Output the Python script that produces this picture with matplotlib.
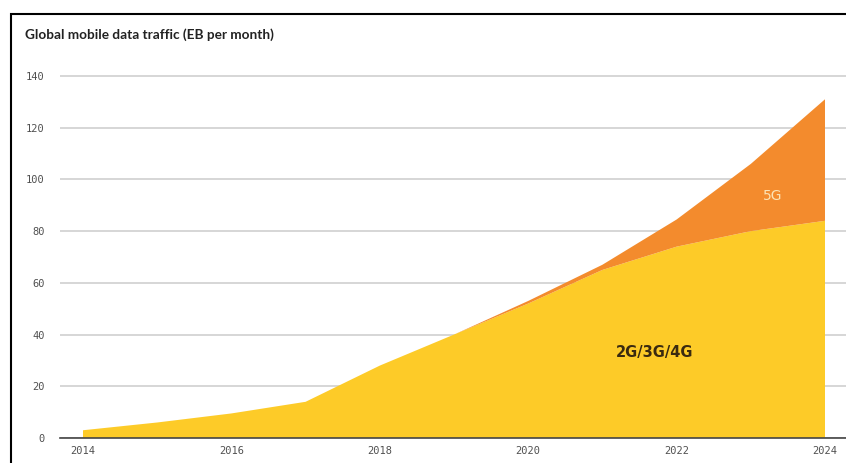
import matplotlib.pyplot as plt
from matplotlib.patches import Rectangle

years = [2014, 2015, 2016, 2017, 2018, 2019, 2020, 2021, 2022, 2023, 2024]
legacy = [3, 6, 9.5, 14, 28, 40, 52, 65, 74, 80, 84]
fiveg = [0, 0, 0, 0, 0, 0, 1, 2, 10.5, 26, 47]

yticks = [0, 20, 40, 60, 80, 100, 120, 140]
xticks = [2014, 2016, 2018, 2020, 2022, 2024]

YELLOW = "#fdcb28"
ORANGE = "#f38b2d"

# pixel layout: 0 -> y=438, 140 -> y=76
ppu = (438 - 76) / 140
ytop = 142
fig = plt.figure(figsize=(8.46, 4.63), dpi=100)
ax = fig.add_axes([60 / 846, 25 / 463, 786 / 846, ytop * ppu / 463])

ax.stackplot(years, legacy, fiveg, colors=[YELLOW, ORANGE], linewidth=0)

ax.set_xlim(2014 - 23 / 74.2, 2024 + 21 / 74.2)
ax.set_ylim(0, ytop)
ax.set_yticks(yticks)
ax.set_xticks(xticks)
ax.yaxis.grid(True, color="#cfcfcf", linewidth=1.2)
ax.set_axisbelow(True)
for s in ["top", "right", "left"]:
    ax.spines[s].set_visible(False)
ax.spines["bottom"].set_color("#444444")
ax.spines["bottom"].set_linewidth(1.2)
ax.spines["bottom"].set_zorder(5)
ax.tick_params(length=0, labelsize=7.5, labelcolor="#505050")
ax.tick_params(axis="y", pad=11)
ax.tick_params(axis="x", pad=6)
for lab in ax.get_xticklabels() + ax.get_yticklabels():
    lab.set_family("DejaVu Sans Mono")

ax.text(2023.29, 93.6, "5G", color="#fce3b5", fontsize=10, ha="center", va="center")
ax.text(2021.71, 32.9, "2G/3G/4G", color="#3a2a10", fontsize=10.5,
        fontweight="bold", ha="center", va="center")

fig.text(25 / 846, 1 - 35 / 463, "Global mobile data traffic (EB per month)",
         fontsize=9.8, fontweight="bold", family="Lato", color="#222222",
         va="center", ha="left")

fig.patches.append(Rectangle((11 / 846, -0.1), 1.2, 1 - 14 / 463 + 0.1,
                             transform=fig.transFigure, fill=False,
                             edgecolor="black", linewidth=1.5))

fig.savefig("out.png", dpi=100)
